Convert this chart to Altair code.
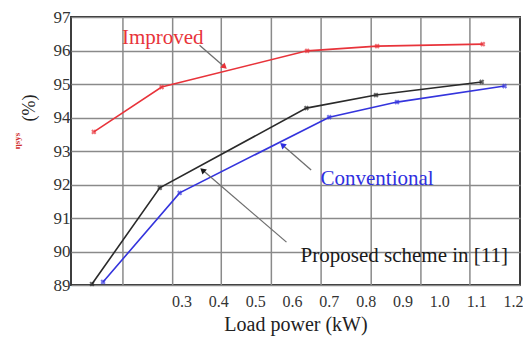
import altair as alt
import pandas as pd

# Series (x in kW as read against the printed tick labels, y in %)
improved_x = [0.062, 0.246, 0.641, 0.831, 1.118]
improved_y = [93.57, 94.91, 95.99, 96.13, 96.19]
proposed_x = [0.057, 0.241, 0.639, 0.828, 1.115]
proposed_y = [89.03, 91.90, 94.28, 94.67, 95.06]
conventional_x = [0.087, 0.295, 0.701, 0.885, 1.177]
conventional_y = [89.09, 91.75, 94.01, 94.46, 94.94]

x_tick_values = [0.3, 0.4, 0.5, 0.6, 0.7, 0.8, 0.9, 1.0, 1.1, 1.2]
y_tick_values = [89, 90, 91, 92, 93, 94, 95, 96, 97]
v_grid = [0.141, 0.276, 0.408, 0.544, 0.679, 0.815, 0.950, 1.083]

# Annotations: label, text position, arrow start, arrow end, colour, head angle
ann_label = ["Improved", "Conventional", "Proposed scheme in [11]"]
ann_tx = [0.249, 0.831, 0.905]
ann_ty = [96.37, 92.16, 89.87]
ann_x1 = [0.349, 0.652, 0.585]
ann_y1 = [96.16, 92.43, 90.28]
ann_x2 = [0.417, 0.574, 0.357]
ann_y2 = [95.51, 93.18, 92.43]
ann_color = ["#e8333a", "#2f2fe0", "#1a1a1a"]
ann_angle = [131, 311, 311]

RED, BLUE, BLACK = "#e8333a", "#3434dd", "#2a2a2a"
FONT = "Liberation Serif"

rows = []
for name, xs_, ys_ in [("Improved", improved_x, improved_y),
                       ("Proposed", proposed_x, proposed_y),
                       ("Conventional", conventional_x, conventional_y)]:
    for i, (a, b) in enumerate(zip(xs_, ys_)):
        rows.append({"series": name, "x": a, "y": b, "order": i})
df = pd.DataFrame(rows)
ann = pd.DataFrame({"label": ann_label, "tx": ann_tx, "ty": ann_ty,
                    "x1": ann_x1, "y1": ann_y1, "x2": ann_x2, "y2": ann_y2,
                    "color": ann_color, "angle": ann_angle})
vg = pd.DataFrame({"x": v_grid})

xs = alt.Scale(domain=[0, 1.219], nice=False, zero=False)
ys = alt.Scale(domain=[89, 97], nice=False, zero=False)
color = alt.Color("series:N", scale=alt.Scale(domain=["Improved", "Proposed", "Conventional"],
                                              range=[RED, BLACK, BLUE]), legend=None)

common = dict(ticks=False, domain=False, labelFont=FONT, labelFontSize=17,
              labelColor="#333", labelOverlap=False, titleFont=FONT, titleFontSize=20,
              titleFontWeight="normal", titleColor="#222")
xaxis = alt.Axis(values=x_tick_values, format=".1f", grid=False, labelPadding=8,
                 labelFontSize=16, title="Load power (kW)", titlePadding=5,
                 **{k: v for k, v in common.items() if k != "labelFontSize"})
yaxis = alt.Axis(values=y_tick_values, format="d", grid=True, gridColor="#8a8a8a",
                 gridWidth=1.5, labelPadding=1, title=None, **common)

gridv = alt.Chart(vg).mark_rule(color="#8a8a8a", strokeWidth=1.5).encode(
    x=alt.X("x:Q", scale=xs, axis=xaxis))

lines = alt.Chart(df).mark_line(strokeWidth=1.6).encode(
    x=alt.X("x:Q", scale=xs, axis=xaxis), y=alt.Y("y:Q", scale=ys, axis=yaxis),
    color=color, order="order:Q")
pts = alt.Chart(df).mark_point(shape="cross", angle=45, size=28, filled=True).encode(
    x=alt.X("x:Q", scale=xs, axis=xaxis), y=alt.Y("y:Q", scale=ys, axis=yaxis), color=color)

arrows = alt.Chart(ann).mark_rule(color="#6e6e6e", strokeWidth=1.3).encode(
    x=alt.X("x1:Q", scale=xs, axis=xaxis), y=alt.Y("y1:Q", scale=ys, axis=yaxis),
    x2="x2:Q", y2="y2:Q")
heads = alt.Chart(ann).mark_point(shape="triangle-up", size=45, filled=True, opacity=1).encode(
    x=alt.X("x2:Q", scale=xs, axis=xaxis), y=alt.Y("y2:Q", scale=ys, axis=yaxis),
    color=alt.Color("color:N", scale=None), angle=alt.Angle("angle:Q", scale=None))
texts = alt.Chart(ann).mark_text(font=FONT, fontSize=21, align="center", baseline="middle").encode(
    x=alt.X("tx:Q", scale=xs, axis=xaxis), y=alt.Y("ty:Q", scale=ys, axis=yaxis),
    text="label:N", color=alt.Color("color:N", scale=None))

ytitle = alt.Chart(pd.DataFrame({"t": ["(%)"]})).mark_text(
    font=FONT, fontSize=18, angle=270, color="#222").encode(
    x=alt.value(-41), y=alt.value(91), text="t:N")
ytitle2 = alt.Chart(pd.DataFrame({"t": ["ηsys"]})).mark_text(
    font=FONT, fontSize=9, angle=270, color="#d03030", fontWeight="bold").encode(
    x=alt.value(-54), y=alt.value(124), text="t:N")

chart = alt.layer(gridv, lines, pts, arrows, heads, texts, ytitle, ytitle2).properties(
    width=449, height=268,
    background="white",
    autosize=alt.AutoSizeParams(type="none"),
    padding={"left": 63, "top": 9, "right": 3, "bottom": 52},
).configure_view(stroke="#2a2a2a", strokeWidth=1.8).configure_axis(
    labelFont=FONT, labelFontSize=17, labelColor="#333", labelOverlap=False,
    titleFont=FONT, titleFontSize=20, titleFontWeight="normal", titleColor="#222")

chart.save("out.html", embed_options={"renderer": "svg", "actions": False})
